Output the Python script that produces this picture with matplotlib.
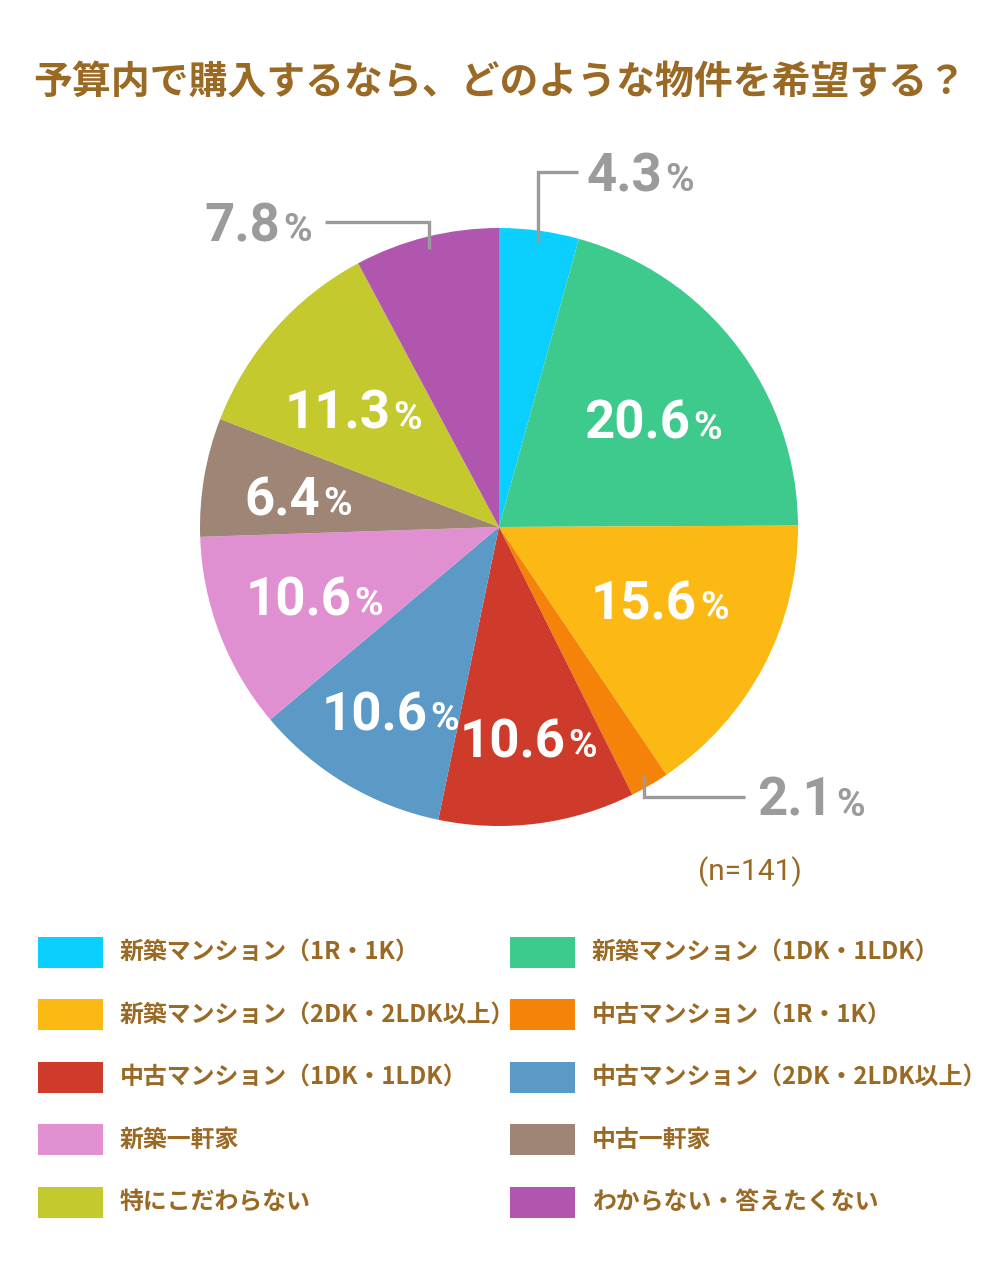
import matplotlib.pyplot as plt
import numpy as np
from matplotlib.patches import Rectangle

plt.rcParams["font.family"] = ["Noto Sans CJK JP", "DejaVu Sans"]

title = "予算内で購入するなら、どのような物件を希望する？"
categories = [
    "新築マンション（1R・1K）",
    "新築マンション（1DK・1LDK）",
    "新築マンション（2DK・2LDK以上）",
    "中古マンション（1R・1K）",
    "中古マンション（1DK・1LDK）",
    "中古マンション（2DK・2LDK以上）",
    "新築一軒家",
    "中古一軒家",
    "特にこだわらない",
    "わからない・答えたくない",
]
shares = [4.3, 20.6, 15.6, 2.1, 10.6, 10.6, 10.6, 6.4, 11.3, 7.8]
colors = ["#0bcfff", "#3fca8d", "#fdb913", "#f5830a", "#ce3b2b",
          "#5b9ac6", "#e08fd0", "#9e8575", "#c4c92e", "#b056ae"]
sample_size = 141

BROWN = "#9a6a24"
GRAY = "#9b9b9b"
W, H = 1000, 1281
PX = 0.72  # points per pixel at dpi=100

# inside labels: (radius, angle nudge in degrees from the wedge's middle)
inside_layout = {1: (0.644, -3.6), 2: (0.61, 4.1), 4: (0.716, 2.1), 5: (0.706, 1.7),
                 6: (0.64, 0.3), 7: (0.71, 1.3), 8: (0.61, 1.5)}
# outer labels: (leader end in data units, number/percent junction offset in px)
outer_layout = {
    0: ((0.264, 1.187), 84),
    9: ((-0.582, 1.020), -45),
    3: ((0.823, -0.903), 88),
}

fig = plt.figure(figsize=(W / 100, H / 100), dpi=100)
fig.patch.set_facecolor("white")

cx, cy, r = 499, 527, 299
ax = fig.add_axes([(cx - r) / W, (H - cy - r) / H, 2 * r / W, 2 * r / H])
wedges, _ = ax.pie(shares, colors=colors, startangle=90, counterclock=False,
                   radius=1, wedgeprops=dict(linewidth=0))
ax.set_xlim(-1, 1)
ax.set_ylim(-1, 1)
ax.set_aspect("equal")
ax.axis("off")


def pct_text(xy, value, color, num_size, pct_size, dx, dy):
    num_font = dict(family=["Roboto", "DejaVu Sans"], weight="bold", color=color)
    ax.annotate(f"{value:.1f}", xy=xy, xytext=(dx * PX, dy * PX),
                textcoords="offset points", ha="right", va="baseline",
                fontsize=num_size, annotation_clip=False, **num_font)
    ax.annotate("%", xy=xy, xytext=((dx + 3) * PX, dy * PX),
                textcoords="offset points", ha="left", va="baseline",
                fontsize=pct_size, annotation_clip=False, **num_font)


for i, (w, value) in enumerate(zip(wedges, shares)):
    mid = (w.theta1 + w.theta2) / 2
    if i in inside_layout:
        rr, nudge = inside_layout[i]
        a = np.deg2rad(mid + nudge)
        pct_text((rr * np.cos(a), rr * np.sin(a)), value, "white", 38, 28, 31, -19)
    elif i in outer_layout:
        (ex, ey), junction = outer_layout[i]
        a = np.deg2rad(mid)
        px_, py_ = 0.96 * np.cos(a), 0.96 * np.sin(a)
        ax.plot([px_, px_, ex], [py_, ey, ey], color=GRAY, lw=2.4,
                clip_on=False, solid_capstyle="butt", solid_joinstyle="miter")
        pct_text((ex, ey), value, GRAY, 38, 28, junction, -19)

fig.text(0.5, 1 - 82 / H, title, ha="center", va="center",
         fontsize=28, weight="bold", color=BROWN)
fig.text(750 / W, 1 - 872 / H, f"(n={sample_size})", ha="center", va="center",
         fontsize=21.5, color=BROWN, family=["Roboto", "DejaVu Sans"])

# legend, two columns filled row by row
lax = fig.add_axes([0, 0, 1, 1], zorder=-1)
lax.set_xlim(0, W)
lax.set_ylim(H, 0)
lax.axis("off")
for i, (name, col) in enumerate(zip(categories, colors)):
    row, column = divmod(i, 2)
    x0 = 38 + column * 472
    yc = 952 + row * 62.5
    lax.add_patch(Rectangle((x0, yc - 15.5), 65, 31, facecolor=col, edgecolor="none"))
    lax.text(x0 + 82, yc, name, ha="left", va="center", fontsize=17.2,
             weight="bold", color=BROWN)

fig.savefig("out.png", dpi=100, facecolor="white")
